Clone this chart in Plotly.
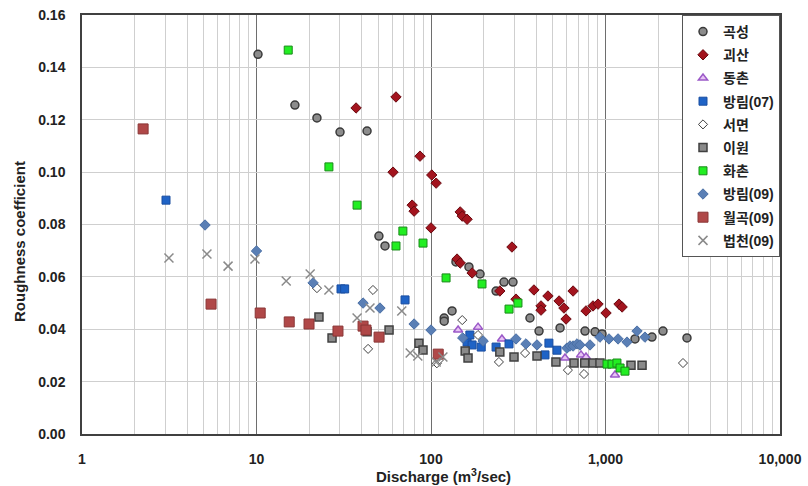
import plotly.graph_objects as go

# ---------------- data ----------------
gokseong_x = [10.2, 16.6, 22.2, 30.1, 43, 50.3, 54.5, 119, 119, 132, 139, 165, 191, 236, 262, 295, 369, 416, 549, 763, 871, 955, 1476, 1846, 2135, 2930]
gokseong_y = [0.145, 0.1256, 0.1207, 0.1153, 0.1157, 0.0756, 0.0718, 0.0443, 0.0431, 0.047, 0.0657, 0.0638, 0.0611, 0.0546, 0.058, 0.058, 0.0443, 0.0393, 0.0405, 0.0393, 0.039, 0.0382, 0.0363, 0.037, 0.0393, 0.0367]

goesan_x = [37.2, 63, 86.5, 60.6, 101, 107, 78, 80, 100, 147, 151, 161, 291, 141, 147, 172, 248, 307, 389, 468, 542, 652, 427, 427, 578, 594, 773, 848, 906, 1007, 1195, 1245]
goesan_y = [0.1245, 0.1287, 0.1061, 0.1, 0.0989, 0.0958, 0.0874, 0.0851, 0.0787, 0.0848, 0.0832, 0.082, 0.0714, 0.0668, 0.0653, 0.0615, 0.0546, 0.0515, 0.055, 0.0527, 0.0508, 0.0546, 0.0489, 0.0473, 0.0481, 0.0439, 0.047, 0.0489, 0.0496, 0.0462, 0.0496, 0.0485]

dongchon_x = [143, 186, 255, 586, 724, 773, 1133]
dongchon_y = [0.0397, 0.0408, 0.0363, 0.029, 0.0302, 0.0294, 0.0225]

bangrim07_x = [3.03, 30.5, 32, 71, 161, 167, 172, 194, 236, 280, 450, 474, 527]
bangrim07_y = [0.0893, 0.0554, 0.0554, 0.0512, 0.0351, 0.0378, 0.034, 0.0332, 0.0332, 0.0344, 0.0302, 0.0347, 0.032]

seomyeon_x = [22.2, 43.6, 46.5, 108, 112, 151, 186, 245, 346, 609, 753, 2780]
seomyeon_y = [0.0557, 0.0325, 0.055, 0.027, 0.0285, 0.0435, 0.0378, 0.0275, 0.0309, 0.0244, 0.0229, 0.0271]

iwon_x = [22.8, 27.1, 43, 57.5, 85.3, 90, 157, 163, 248, 299, 405, 520, 660, 760, 848, 929, 1400, 1620]
iwon_y = [0.0447, 0.0367, 0.039, 0.0397, 0.0347, 0.0321, 0.0317, 0.029, 0.0313, 0.0294, 0.0298, 0.0275, 0.0271, 0.0271, 0.0271, 0.0271, 0.0263, 0.0263]

hwachon_x = [15.2, 26, 37.7, 63, 69, 90, 122, 196, 280, 315, 1020, 1090, 1163, 1212, 1293]
hwachon_y = [0.1466, 0.102, 0.0874, 0.0718, 0.0775, 0.0729, 0.0596, 0.0573, 0.0477, 0.05, 0.0267, 0.0267, 0.0271, 0.0252, 0.024]

bangrim09_x = [5.07, 10, 21.1, 40.8, 51, 80, 100, 152, 199, 307, 350, 405, 601, 626, 652, 687, 714, 815, 929, 1047, 1180, 1328, 1516, 1683]
bangrim09_y = [0.0798, 0.0699, 0.0577, 0.05, 0.0481, 0.042, 0.0397, 0.0367, 0.0355, 0.0363, 0.0344, 0.034, 0.0328, 0.0336, 0.0336, 0.0344, 0.034, 0.034, 0.037, 0.0363, 0.0363, 0.0351, 0.0393, 0.037]

wolgok09_x = [2.24, 5.49, 10.5, 15.4, 20, 29.3, 40.8, 42.4, 50.4, 110]
wolgok09_y = [0.1165, 0.0496, 0.0462, 0.0428, 0.042, 0.0393, 0.0412, 0.0397, 0.037, 0.0305]

beopcheon09_x = [3.15, 5.2, 6.87, 9.8, 14.8, 20.3, 26, 37.7, 44.7, 68, 76, 84, 107, 117]
beopcheon09_y = [0.0672, 0.0687, 0.0641, 0.0668, 0.0584, 0.0611, 0.055, 0.0443, 0.0481, 0.047, 0.0309, 0.0298, 0.0275, 0.0294]

series_names = ["곡성", "괴산", "동촌", "방림(07)", "서면", "이원", "화촌", "방림(09)", "월곡(09)", "법천(09)"]

y_ticks = [0, 0.02, 0.04, 0.06, 0.08, 0.10, 0.12, 0.14, 0.16]
x_major = [1, 10, 100, 1000, 10000]
x_major_labels = ["1", "10", "100", "1,000", "10,000"]

x_title = "Discharge (m<sup>3</sup>/sec)"
y_title = "Roughness coefficient"

# ---------------- styles ----------------
styles = [
    dict(symbol="circle", size=8, color="#8c8c8c", line=dict(color="#3a3a3a", width=1.5)),
    dict(symbol="diamond", size=8, color="#a3141e", line=dict(color="#6a0a10", width=1)),
    dict(symbol="triangle-up", size=8, color="#e8c4f4", line=dict(color="#9b59c8", width=1.5)),
    dict(symbol="square", size=8, color="#1f63c6", line=dict(color="#1a4ea0", width=1)),
    dict(symbol="diamond", size=7, color="#ffffff", line=dict(color="#404040", width=1)),
    dict(symbol="square", size=8, color="#8a8a8a", line=dict(color="#404040", width=1.5)),
    dict(symbol="square", size=8, color="#22ee22", line=dict(color="#1a8a1a", width=1)),
    dict(symbol="diamond", size=8, color="#5a7fb5", line=dict(color="#4a6fa5", width=1)),
    dict(symbol="square", size=10, color="#b04848", line=dict(color="#8a3636", width=1)),
    dict(symbol="x-thin-open", size=9, color="#8a8a8a", line=dict(color="#8a8a8a", width=1.5)),
]

data = [
    (gokseong_x, gokseong_y), (goesan_x, goesan_y), (dongchon_x, dongchon_y),
    (bangrim07_x, bangrim07_y), (seomyeon_x, seomyeon_y), (iwon_x, iwon_y),
    (hwachon_x, hwachon_y), (bangrim09_x, bangrim09_y), (wolgok09_x, wolgok09_y),
    (beopcheon09_x, beopcheon09_y),
]

fig = go.Figure()
for i, (name, (xs, ys), st) in enumerate(zip(series_names, data, styles)):
    fig.add_trace(go.Scatter(
        x=xs, y=ys, mode="markers", name=name, legendgroup=f"g{i}",
        marker=st,
    ))

# minor grid positions (2..9 within each decade)
x_minor = [d * m for d in [1, 10, 100, 1000] for m in range(2, 10)]

tickfont = dict(family="Liberation Sans, Arial, sans-serif", size=14, color="#222222", weight="bold")
titlefont = dict(family="Liberation Sans, Arial, sans-serif", size=15, color="#222222", weight="bold")

fig.update_xaxes(
    type="log", range=[0, 4], automargin=False,
    tickvals=x_major, ticktext=x_major_labels,
    showgrid=True, gridcolor="#6e6e6e", gridwidth=1.2,
    minor=dict(tickvals=x_minor, showgrid=True, gridcolor="#cfcfcf", gridwidth=1, ticks=""),
    showline=True, linecolor="#404040", linewidth=1.5, mirror=True,
    ticks="", tickfont=tickfont, zeroline=False, ticklabelstandoff=11,
)
fig.update_yaxes(
    range=[0, 0.16], tickvals=y_ticks, tickformat=".2f", automargin=False,
    showgrid=True, gridcolor="#cfcfcf", gridwidth=1,
    showline=True, linecolor="#404040", linewidth=1.5, mirror=True,
    ticks="", tickfont=tickfont, zeroline=False, ticklabelstandoff=12,
)

fig.add_annotation(text=x_title, xref="paper", yref="paper", x=0.5186, y=-0.098,
                   xanchor="center", yanchor="middle", showarrow=False, font=titlefont)
fig.add_annotation(text=y_title, xref="paper", yref="paper", x=-0.0903, y=0.4606,
                   xanchor="center", yanchor="middle", textangle=-90, showarrow=False, font=titlefont)

fig.update_layout(
    width=808, height=486,
    margin=dict(l=82, r=28, t=15, b=52),
    plot_bgcolor="white", paper_bgcolor="white",
    legend=dict(
        x=1, y=1, xanchor="right", yanchor="top",
        bgcolor="white", bordercolor="#555555", borderwidth=1,
        font=dict(family="Liberation Sans, Noto Sans CJK KR, sans-serif", size=14, color="#222222", weight="bold"),
        traceorder="grouped", tracegroupgap=2, itemwidth=30,
    ),
)

fig.write_html("out.html")
